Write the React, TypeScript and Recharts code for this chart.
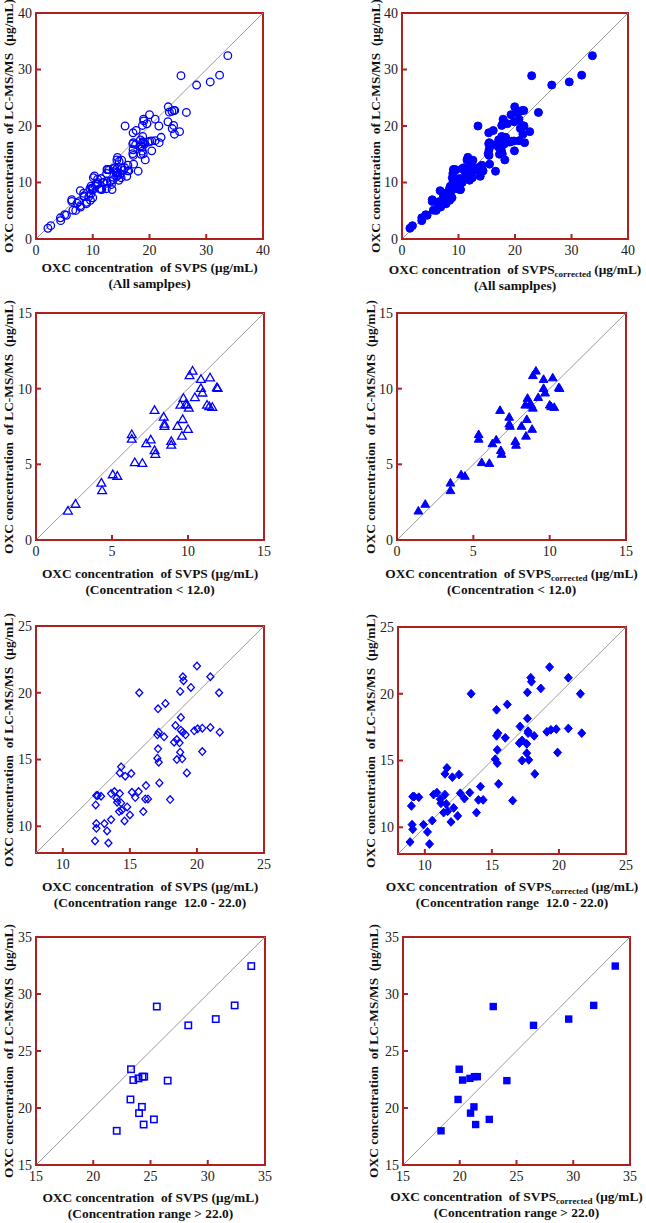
import { ReferenceArea, ReferenceLine, Scatter, ScatterChart, XAxis, YAxis } from "recharts";

const BLUE = "#0000ff";
const FRAME = "#b0201f";
const SERIF = "'Liberation Serif', 'Times New Roman', serif";
const AXIS_W = 36;

// samples with SVPS < 12.0 (µg/mL)
const lowSvps = [2.1, 2.6, 4.3, 4.35, 5.05, 5.35, 6.3, 6.3, 6.5, 7.0, 7.25, 7.55, 7.8, 7.8, 7.85, 8.4, 8.45, 8.45, 8.9, 8.9, 9.3, 9.65, 9.6, 9.7, 9.5, 9.85, 9.95, 10.05, 10.0, 10.1, 10.3, 10.45, 10.85, 10.85, 10.95, 11.25, 11.4, 11.45, 11.6, 11.9, 11.95];
const lowCorrected = [1.4, 1.85, 3.5, 3.5, 4.2, 4.45, 5.35, 5.35, 5.55, 6.05, 6.25, 6.5, 6.75, 6.8, 6.85, 7.35, 7.35, 7.4, 7.75, 7.8, 8.15, 8.5, 8.45, 8.55, 8.4, 8.7, 8.8, 8.9, 8.85, 8.9, 9.1, 9.25, 9.6, 9.6, 9.7, 10.0, 10.1, 10.2, 10.3, 10.6, 10.65];
const lowLcms = [1.9, 2.35, 3.75, 3.25, 4.3, 4.2, 6.95, 6.65, 5.1, 5.05, 6.35, 6.6, 8.55, 5.9, 5.65, 8.1, 7.65, 7.5, 6.5, 6.25, 7.5, 7.95, 6.85, 9.35, 8.9, 8.95, 8.9, 8.7, 7.3, 10.85, 11.15, 9.4, 10.6, 10.0, 9.7, 8.9, 8.8, 10.7, 8.75, 10.05, 10.0];

// samples with SVPS 12.0 - 22.0
const midSvps = [12.4, 13.4, 12.5, 12.5, 13.1, 13.3, 13.6, 12.45, 12.5, 12.6, 12.85, 13.6, 13.85, 14.0, 14.05, 14.25, 14.35, 14.2, 14.4, 14.6, 14.8, 15.0, 14.35, 14.25, 14.65, 15.1, 15.15, 15.4, 15.65, 16.2, 16.15, 16.35, 16.0, 15.7, 17.1, 17.65, 17.05, 17.15, 17.1, 17.05, 17.15, 17.2, 17.55, 18.0, 18.4, 18.5, 18.3, 18.7, 18.75, 18.5, 18.9, 18.75, 18.95, 19.0, 18.8, 18.8, 18.95, 19.15, 19.25, 19.55, 19.8, 20.05, 20.4, 20.0, 20.4, 21.0, 21.0, 21.65, 21.7];
const midCorrected = [8.9, 10.35, 9.05, 9.1, 9.9, 10.2, 10.55, 9.0, 9.1, 9.2, 9.55, 10.65, 10.9, 11.15, 11.2, 11.5, 11.6, 11.4, 11.7, 11.95, 12.15, 12.45, 11.65, 11.5, 12.05, 12.55, 12.65, 12.95, 13.35, 14.15, 14.0, 14.35, 13.85, 13.45, 15.35, 16.15, 15.35, 15.45, 15.4, 15.25, 15.4, 15.5, 16.0, 16.55, 17.1, 17.25, 17.05, 17.6, 17.6, 17.25, 17.75, 17.65, 17.9, 17.95, 17.65, 17.7, 17.7, 18.15, 18.2, 18.65, 19.1, 19.4, 19.8, 19.3, 19.9, 20.7, 20.7, 21.6, 21.7];
const midLcms = [8.9, 8.75, 10.2, 9.85, 10.2, 9.65, 10.5, 11.6, 12.3, 12.3, 12.25, 12.45, 12.6, 12.1, 11.8, 12.45, 11.75, 11.1, 11.2, 10.4, 11.45, 10.85, 14.45, 14.0, 13.75, 13.95, 12.55, 12.15, 12.6, 13.05, 12.05, 12.05, 11.1, 20.0, 18.8, 19.2, 16.85, 17.05, 15.8, 15.1, 14.8, 13.25, 16.7, 12.0, 17.55, 16.5, 16.3, 16.25, 15.55, 15.0, 15.05, 20.1, 21.2, 20.9, 18.15, 17.2, 17.05, 16.85, 14.0, 20.4, 17.15, 17.3, 17.35, 22.0, 15.6, 21.2, 17.4, 20.0, 17.05];

// samples with SVPS > 22.0
const highSvps = [22.05, 23.25, 23.3, 23.5, 24.0, 23.95, 24.25, 24.3, 24.45, 24.4, 25.3, 25.55, 26.5, 28.3, 30.7, 32.35, 33.8];
const highCorrected = [18.35, 19.85, 19.95, 20.25, 20.95, 20.9, 21.25, 21.3, 21.55, 21.4, 22.6, 22.95, 24.15, 26.5, 29.6, 31.8, 33.7];
const highLcms = [18.0, 20.75, 23.4, 22.45, 19.55, 22.6, 20.1, 22.75, 22.75, 18.55, 19.0, 28.9, 22.4, 27.25, 27.8, 29.0, 32.45];

const allSvps = [...lowSvps, ...midSvps, ...highSvps];
const allCorrected = [...lowCorrected, ...midCorrected, ...highCorrected];
const allLcms = [...lowLcms, ...midLcms, ...highLcms];

const ticksAll = [0, 10, 20, 30, 40];
const ticksLow = [0, 5, 10, 15];
const ticksMid = [10, 15, 20, 25];
const ticksHigh = [15, 20, 25, 30, 35];

const groupNotes = ["(All samplpes)", "(Concentration < 12.0)", "(Concentration range  12.0 - 22.0)", "(Concentration range > 22.0)"];

const zip = (xs: number[], ys: number[]) => xs.map((x, i) => ({ x, y: ys[i] }));

type Kind = "circle" | "triangle" | "diamond" | "square";

function marker(kind: Kind, filled: boolean) {
  return (props: any) => {
    const { cx, cy } = props;
    if (cx == null || cy == null) return <g />;
    const paint = { fill: filled ? BLUE : "none", stroke: BLUE, strokeWidth: filled ? 1 : 1.3 };
    if (kind === "circle") return <circle cx={cx} cy={cy} r={filled ? 4 : 3.8} {...paint} />;
    if (kind === "triangle") {
      const hw = 4.4;
      return <polygon points={`${cx},${cy - 4.8} ${cx + hw},${cy + 2.8} ${cx - hw},${cy + 2.8}`} {...paint} />;
    }
    if (kind === "diamond") {
      const w = filled ? 4 : 3.5;
      const h = filled ? 4.4 : 3.8;
      return <polygon points={`${cx},${cy - h} ${cx + w},${cy} ${cx},${cy + h} ${cx - w},${cy}`} {...paint} />;
    }
    const s = filled ? 7.4 : 6.4;
    return <rect x={cx - s / 2} y={cy - s / 2} width={s} height={s} {...paint} strokeWidth={filled ? 0 : 1.5} />;
  };
}

type PanelDef = {
  left: number;
  top: number;
  w: number;
  h: number;
  domain: [number, number];
  xTicks: number[];
  yTicks: number[];
  xs: number[];
  ys: number[];
  kind: Kind;
  corrected: boolean;
  note: string;
  xTitleY: number;
  yTitleX: number;
};

const panels: PanelDef[] = [
  { left: 36, top: 13, w: 227, h: 226, domain: [0, 40], xTicks: ticksAll, yTicks: ticksAll, xs: allSvps, ys: allLcms, kind: "circle", corrected: false, note: groupNotes[0], xTitleY: 268, yTitleX: 8 },
  { left: 402, top: 13, w: 226, h: 226, domain: [0, 40], xTicks: ticksAll, yTicks: ticksAll, xs: allCorrected, ys: allLcms, kind: "circle", corrected: true, note: groupNotes[0], xTitleY: 270, yTitleX: 375 },
  { left: 36, top: 313, w: 228, h: 227, domain: [0, 15], xTicks: ticksLow, yTicks: ticksLow, xs: lowSvps, ys: lowLcms, kind: "triangle", corrected: false, note: groupNotes[1], xTitleY: 574, yTitleX: 8 },
  { left: 397, top: 313, w: 229, h: 227, domain: [0, 15], xTicks: ticksLow, yTicks: ticksLow, xs: lowCorrected, ys: lowLcms, kind: "triangle", corrected: true, note: groupNotes[1], xTitleY: 574, yTitleX: 370 },
  { left: 36, top: 626, w: 228, h: 227, domain: [8, 25], xTicks: ticksMid, yTicks: ticksMid, xs: midSvps, ys: midLcms, kind: "diamond", corrected: false, note: groupNotes[2], xTitleY: 887, yTitleX: 8 },
  { left: 398, top: 627, w: 228, h: 227, domain: [8, 25], xTicks: ticksMid, yTicks: ticksMid, xs: midCorrected, ys: midLcms, kind: "diamond", corrected: true, note: groupNotes[2], xTitleY: 887, yTitleX: 370 },
  { left: 36, top: 937, w: 229, h: 228, domain: [15, 35], xTicks: ticksHigh, yTicks: ticksHigh, xs: highSvps, ys: highLcms, kind: "square", corrected: false, note: groupNotes[3], xTitleY: 1198, yTitleX: 8 },
  { left: 403, top: 937, w: 227, h: 228, domain: [15, 35], xTicks: ticksHigh, yTicks: ticksHigh, xs: highCorrected, ys: highLcms, kind: "square", corrected: true, note: groupNotes[3], xTitleY: 1197, yTitleX: 373 },
];

const tickStyle = { fill: "#222", fontSize: 14, fontFamily: SERIF };
const titleStyle = { fontFamily: SERIF, fontWeight: 700, fontSize: 13.4, color: "#111", whiteSpace: "pre" as const };

function Panel({ p }: { p: PanelDef }) {
  const [d0, d1] = p.domain;
  const chartW = AXIS_W + p.w + 8;
  const chartH = 8 + p.h + 24;
  return (
    <>
      <div style={{ position: "absolute", left: p.left - AXIS_W, top: p.top - 8 }}>
        <ScatterChart width={chartW} height={chartH} margin={{ top: 8, right: 8, bottom: 0, left: 0 }} style={{ overflow: "visible" }}>
          <XAxis type="number" dataKey="x" domain={p.domain} ticks={p.xTicks} interval={0} allowDataOverflow height={24} axisLine={false} tickSize={-5} tickMargin={11} tickLine={{ stroke: FRAME, strokeWidth: 2 }} tick={tickStyle} />
          <YAxis type="number" dataKey="y" domain={p.domain} ticks={p.yTicks} interval={0} allowDataOverflow width={AXIS_W} axisLine={false} tickSize={-5} tickMargin={9} tickLine={{ stroke: FRAME, strokeWidth: 2 }} tick={tickStyle} />
          <ReferenceLine segment={[{ x: d0, y: d0 }, { x: d1, y: d1 }]} stroke="#9a9a9a" strokeWidth={1} />
          <Scatter data={zip(p.xs, p.ys)} shape={marker(p.kind, p.corrected)} isAnimationActive={false} />
          <ReferenceArea x1={d0} x2={d1} y1={d0} y2={d1} fill="none" fillOpacity={0} stroke={FRAME} strokeWidth={2} />
        </ScatterChart>
      </div>
      <div style={{ ...titleStyle, position: "absolute", left: p.left + p.w / 2 - 160, width: 320, top: p.xTitleY - 8, lineHeight: "15.5px", textAlign: "center" }}>
        <div>
          {"OXC concentration  of SVPS"}
          {p.corrected && <span style={{ fontSize: 9, verticalAlign: "-3px", lineHeight: 0 }}>corrected</span>}
          {" (μg/mL)"}
        </div>
        <div>{p.note}</div>
      </div>
      <div style={{ ...titleStyle, position: "absolute", left: p.yTitleX, top: p.top + p.h / 2, transform: "translate(-50%, -50%) rotate(-90deg)", lineHeight: "15px" }}>
        {"OXC concentration  of LC-MS/MS  (μg/mL)"}
      </div>
    </>
  );
}

export default function App() {
  return (
    <div style={{ position: "absolute", left: 0, top: 0, width: 646, height: 1223, background: "#fff" }}>
      {panels.map((p, i) => (
        <Panel key={i} p={p} />
      ))}
    </div>
  );
}
